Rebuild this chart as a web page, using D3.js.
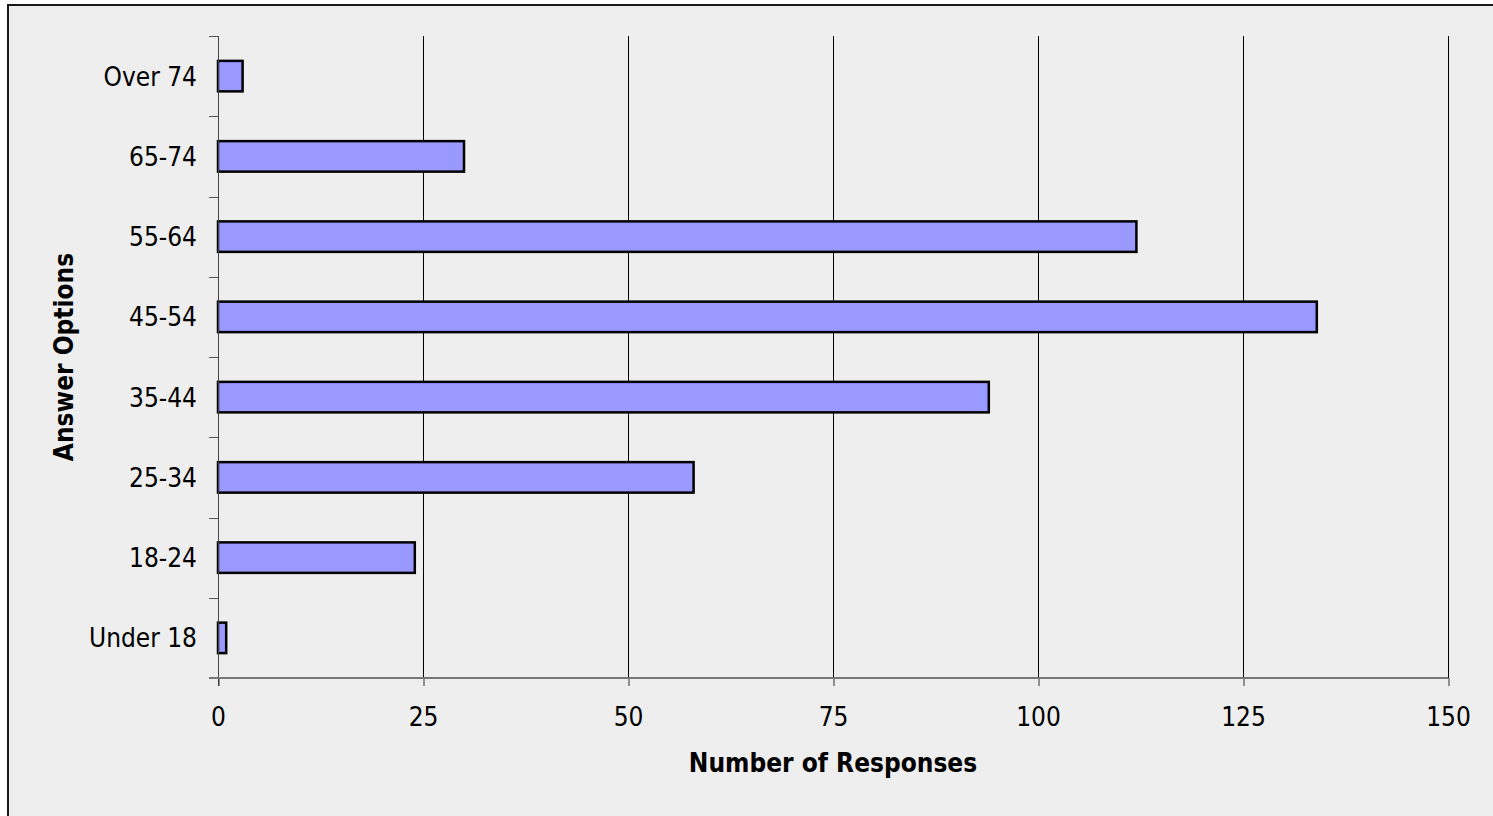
<!DOCTYPE html>
<html>
<head>
<meta charset="utf-8">
<script src="https://cdn.jsdelivr.net/npm/d3@7"></script>
<style>
  html, body { margin: 0; padding: 0; background: #ffffff; }
  svg { display: block; }
  text { font-family: "DejaVu Sans Condensed", "DejaVu Sans", sans-serif; fill: #000; }
</style>
</head>
<body>
<svg id="chart" width="1493" height="816"></svg>
<script>
const categories = ["Over 74", "65-74", "55-64", "45-54", "35-44", "25-34", "18-24", "Under 18"];
const responses = [3, 30, 112, 134, 94, 58, 24, 1];
const xTicks = [0, 25, 50, 75, 100, 125, 150];
const xTitle = "Number of Responses";
const yTitle = "Answer Options";

const W = 1493, H = 816;
const plot = { left: 218, right: 1448, top: 36, bottom: 678 };
const svg = d3.select("#chart");

// frame
svg.append("rect")
  .attr("x", 8).attr("y", 5).attr("width", W + 10).attr("height", H + 10)
  .attr("fill", "#eeeeee").attr("stroke", "#1a1a1a").attr("stroke-width", 2);

const x = d3.scaleLinear().domain([0, 150]).range([plot.left, plot.right]);
const y = d3.scaleBand().domain(categories).range([plot.top, plot.bottom]).padding(0);

// gridlines
svg.append("g").selectAll("line")
  .data(xTicks.filter(d => d > 0))
  .join("line")
  .attr("x1", d => Math.round(x(d)) + 0.5).attr("x2", d => Math.round(x(d)) + 0.5)
  .attr("y1", plot.top).attr("y2", plot.bottom)
  .attr("stroke", "#000").attr("stroke-width", 1);

// bars
const bw = y.bandwidth();
const barH = bw * 0.38;
svg.append("g").selectAll("rect")
  .data(categories.map((c, i) => ({ c, v: responses[i] })))
  .join("rect")
  .attr("x", x(0))
  .attr("y", d => y(d.c) + (bw - barH) / 2)
  .attr("width", d => x(d.v) - x(0))
  .attr("height", barH)
  .attr("fill", "#9999ff")
  .attr("stroke", "#000")
  .attr("stroke-width", 2.5);

// y axis
const yAxis = svg.append("g")
  .attr("transform", `translate(${plot.left},0)`)
  .call(d3.axisLeft(y).tickSize(0).tickPadding(21));
yAxis.select(".domain").remove();
yAxis.selectAll("text").style("font-size", "26px").attr("dy", "0.36em");
const bounds = categories.map(c => y(c)).concat([y(categories[categories.length - 1]) + bw]);
svg.append("g").selectAll("line")
  .data(bounds)
  .join("line")
  .attr("x1", plot.left - 9).attr("x2", plot.left)
  .attr("y1", d => Math.round(d) + 0.5).attr("y2", d => Math.round(d) + 0.5)
  .attr("stroke", "#555").attr("stroke-width", 1);
svg.append("line")
  .attr("x1", plot.left + 0.5).attr("x2", plot.left + 0.5)
  .attr("y1", plot.top).attr("y2", plot.bottom + 8)
  .attr("stroke", "#444").attr("stroke-width", 1);

// x axis
const xAxis = svg.append("g")
  .attr("transform", `translate(0,${plot.bottom})`)
  .call(d3.axisBottom(x).tickValues(xTicks).tickSize(8).tickPadding(22));
xAxis.select(".domain").remove();
xAxis.selectAll("line").attr("stroke", "#333").attr("transform", "translate(0.5,0)");
xAxis.selectAll("text").style("font-size", "26px");
svg.append("line")
  .attr("x1", plot.left - 9).attr("x2", plot.right)
  .attr("y1", plot.bottom).attr("y2", plot.bottom)
  .attr("stroke", "#777").attr("stroke-width", 2);

// titles
svg.append("text")
  .attr("x", (plot.left + plot.right) / 2).attr("y", 772)
  .attr("text-anchor", "middle")
  .style("font-size", "26px").style("font-weight", "bold")
  .text(xTitle);
svg.append("text")
  .attr("transform", `translate(73,${(plot.top + plot.bottom) / 2}) rotate(-90)`)
  .attr("text-anchor", "middle")
  .style("font-size", "26px").style("font-weight", "bold")
  .text(yTitle);
</script>
</body>
</html>
